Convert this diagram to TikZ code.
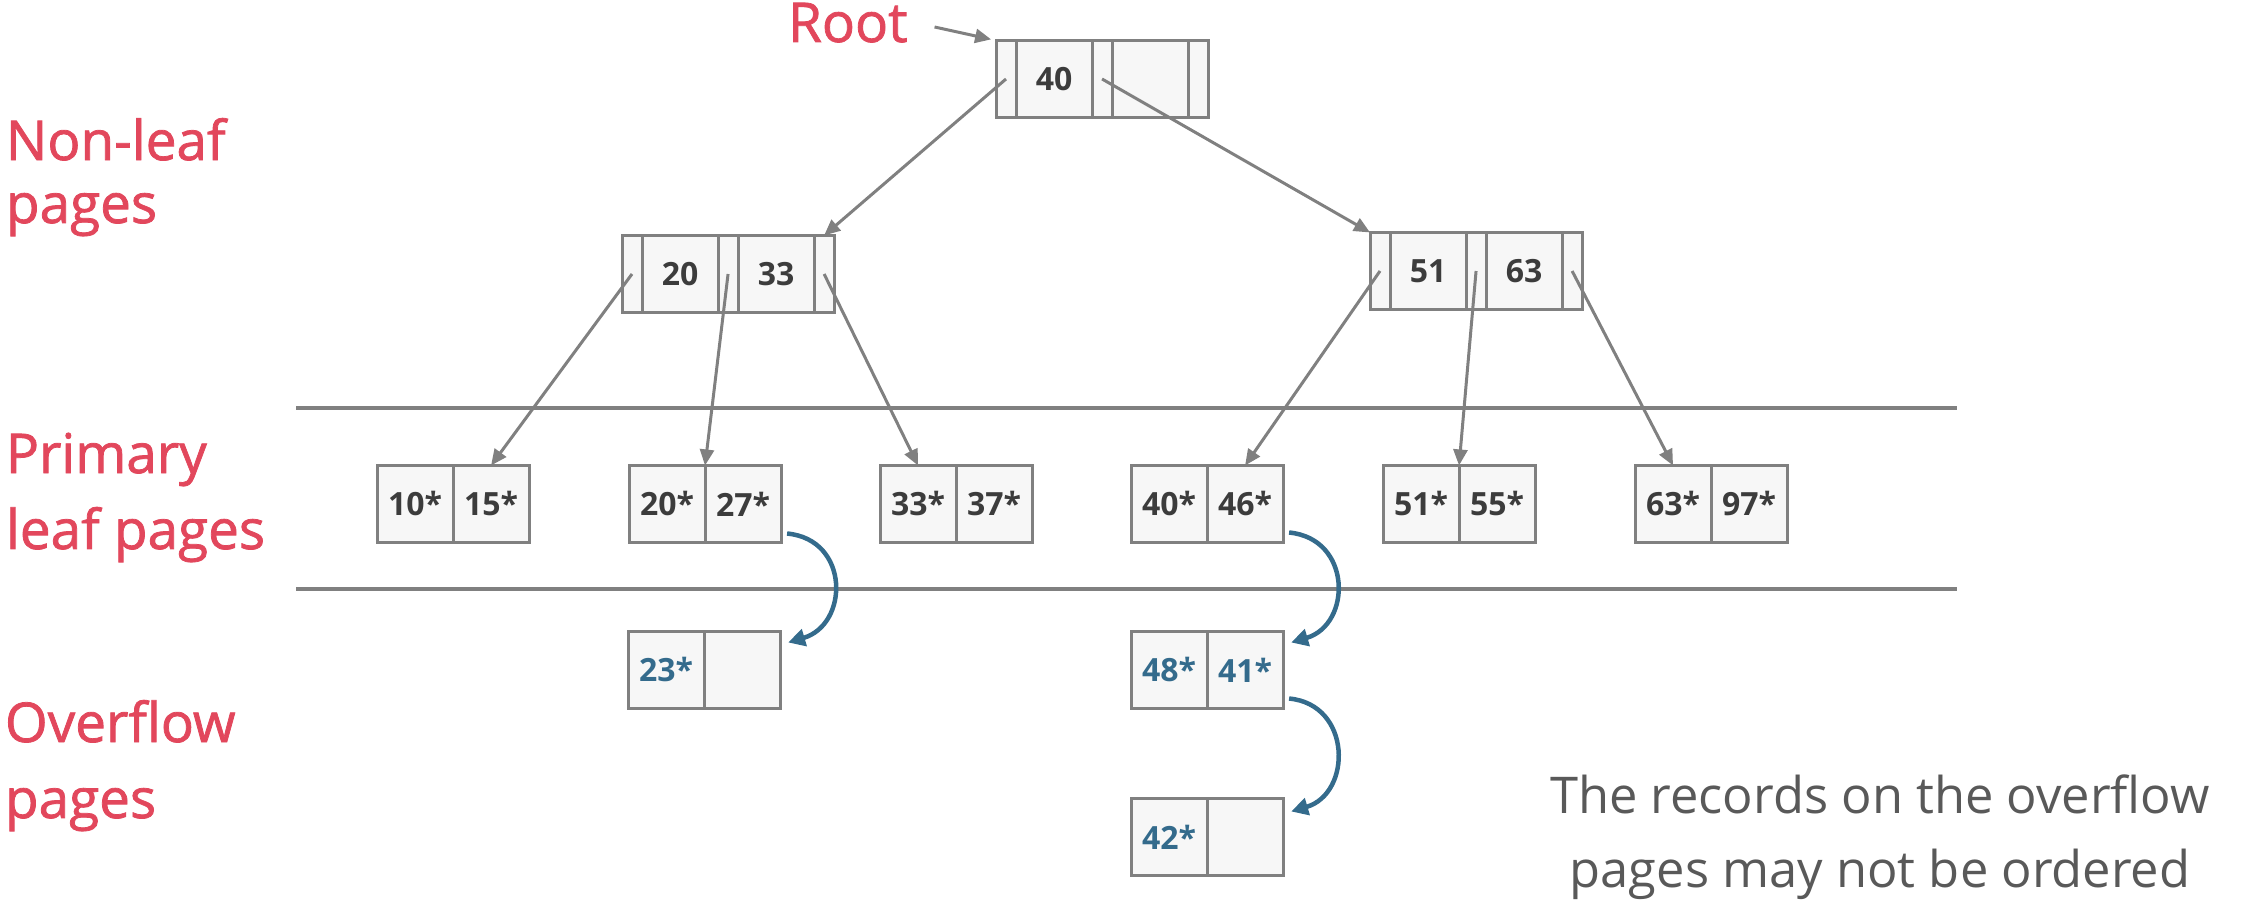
\documentclass[tikz,border=0pt]{standalone}
\usepackage{fontspec}
\setmainfont{Open Sans}
\newfontfamily\lblfont[FakeBold=1.4]{Open Sans}
\usetikzlibrary{arrows.meta,calc}
\definecolor{gline}{HTML}{808080}
\definecolor{cellfill}{HTML}{F7F7F7}
\definecolor{keytext}{HTML}{3C3C3C}
\definecolor{redlbl}{HTML}{E2475C}
\definecolor{bluec}{HTML}{346B8C}
\definecolor{notegray}{HTML}{595959}
\tikzset{
  cell/.style={draw=gline, fill=cellfill, line width=0.03cm, minimum height=0.77cm,
    inner sep=0pt, outer sep=0pt, anchor=west, text=keytext,
    font=\fontsize{9.1pt}{11pt}\selectfont\bfseries},
  keycell/.style={cell, minimum width=0.76cm},
  ptrcell/.style={cell, minimum width=0.20cm},
  ovkey/.style={keycell, text=bluec},
  garrow/.style={draw=gline, line width=0.03cm, -{Triangle[length=0.16cm,width=0.14cm]}},
  barrow/.style={draw=bluec, line width=0.045cm, -{Triangle[length=0.17cm,width=0.17cm]}},
  sepline/.style={draw=gline, line width=0.045cm},
  lbl/.style={text=redlbl, inner sep=0pt, outer sep=0pt, align=left,
    font=\lblfont\fontsize{15.6pt}{21.6pt}\selectfont},
  note/.style={text=notegray, inner sep=0pt, outer sep=0pt, align=center,
    font=\fontsize{14.4pt}{21.3pt}\selectfont},
}
\begin{document}
\begin{tikzpicture}[x=0.01cm, y=-0.01cm]
\useasboundingbox (0,0) rectangle (2251,904);

% separator lines
\draw[sepline] (296,408) -- (1957,408);
\draw[sepline] (296,589) -- (1957,589);

% root node
\node[ptrcell] (r-p0) at (996,79) {};
\node[keycell] (r-k0) at (r-p0.east) {40};
\node[ptrcell] (r-p1) at (r-k0.east) {};
\node[keycell] (r-k1) at (r-p1.east) {};
\node[ptrcell] (r-p2) at (r-k1.east) {};

% left inner node
\node[ptrcell] (a-p0) at (622,274) {};
\node[keycell] (a-k0) at (a-p0.east) {20};
\node[ptrcell] (a-p1) at (a-k0.east) {};
\node[keycell] (a-k1) at (a-p1.east) {33};
\node[ptrcell] (a-p2) at (a-k1.east) {};

% right inner node
\node[ptrcell] (b-p0) at (1370,271) {};
\node[keycell] (b-k0) at (b-p0.east) {51};
\node[ptrcell] (b-p1) at (b-k0.east) {};
\node[keycell] (b-k1) at (b-p1.east) {63};
\node[ptrcell] (b-p2) at (b-k1.east) {};

% leaves
\node[keycell] (l1a) at (377,504) {10*};
\node[keycell] (l1b) at (l1a.east) {15*};
\node[keycell] (l2a) at (629,504) {20*};
\node[keycell] (l2b) at (l2a.east) {27*};
\node[keycell] (l3a) at (880,504) {33*};
\node[keycell] (l3b) at (l3a.east) {37*};
\node[keycell] (l4a) at (1131,504) {40*};
\node[keycell] (l4b) at (l4a.east) {46*};
\node[keycell] (l5a) at (1383,504) {51*};
\node[keycell] (l5b) at (l5a.east) {55*};
\node[keycell] (l6a) at (1635,504) {63*};
\node[keycell] (l6b) at (l6a.east) {97*};

% overflow pages
\node[ovkey] (o1a) at (628,670) {23*};
\node[ovkey] (o1b) at (o1a.east) {};
\node[ovkey] (o2a) at (1131,670) {48*};
\node[ovkey] (o2b) at (o2a.east) {41*};
\node[ovkey] (o3a) at (1131,837) {42*};
\node[ovkey] (o3b) at (o3a.east) {};

% tree pointers
\draw[garrow] (r-p0.center) -- (a-p2.north);
\draw[garrow] (r-p1.center) -- (b-p0.north west);
\draw[garrow] (a-p0.center) -- (l1b.north);
\draw[garrow] (a-p1.center) -- (l2b.north west);
\draw[garrow] (a-p2.center) -- (l3a.north);
\draw[garrow] (b-p0.center) -- (l4b.north);
\draw[garrow] (b-p1.center) -- (l5b.north west);
\draw[garrow] (b-p2.center) -- (l6a.north);

% overflow chains
\draw[barrow] ($(l2b.south east)+(6,-9)$) .. controls +(63,6) and +(61,-18) .. ($(o1b.north east)+(8,11)$);
\draw[barrow] ($(l4b.south east)+(6,-10)$) .. controls +(63,6) and +(61,-18) .. ($(o2b.north east)+(8,11)$);
\draw[barrow] ($(o2b.south east)+(6,-10)$) .. controls +(63,6) and +(61,-18) .. ($(o3b.north east)+(8,13)$);

% labels (base anchor = baseline of the last line)
\node[lbl, anchor=base west] (rootlbl) at (788,42) {Root};
\draw[garrow, shorten >=0.05cm] ($(rootlbl.base east)+(27,-15)$) -- (r-p0.north west);
\node[lbl, anchor=base west, font=\lblfont\fontsize{15.6pt}{17.9pt}\selectfont] (nonleaf) at (6,223) {Non-leaf\\pages};
\node[lbl, anchor=base west] (primary) at (6,549) {Primary\\leaf pages};
\node[lbl, anchor=base west] (overflow) at (5,818) {Overflow\\pages};
\node[note, anchor=base] (notetxt) at (1880,888) {The records on the overflow\\pages may not be ordered};
\end{tikzpicture}
\end{document}
